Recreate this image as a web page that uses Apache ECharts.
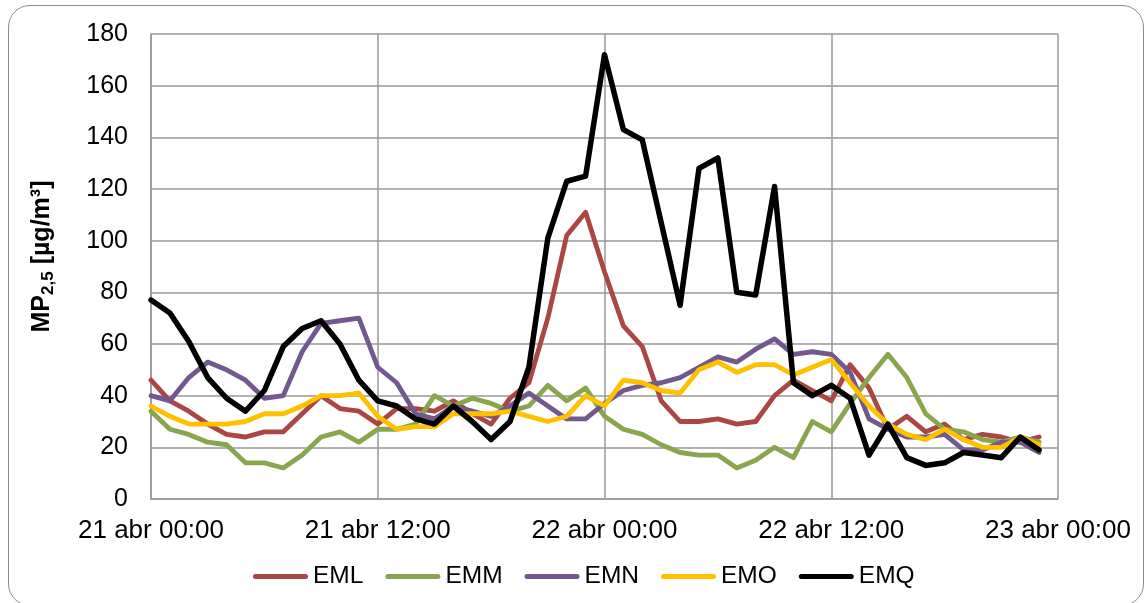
<!DOCTYPE html>
<html>
<head>
<meta charset="utf-8">
<script src="https://cdn.jsdelivr.net/npm/echarts@6/dist/echarts.min.js"></script>
<style>
  html, body { margin: 0; padding: 0; background: #fff; }
  #wrap { position: relative; width: 1145px; height: 603px; overflow: hidden; }
  #frame { position: absolute; left: 8px; top: 5px; width: 1136px; height: 601px; box-sizing: border-box;
           border: 1.5px solid #8c8c8c; border-radius: 22px; }
  #chart { position: absolute; left: 0; top: 0; width: 1145px; height: 603px; }
</style>
</head>
<body>
<div id="wrap">
  <div id="frame"></div>
  <div id="chart"></div>
</div>
<script>
// hours since 21 abr 00:00 (one point per hour)
const xTickLabels = ['21 abr 00:00', '21 abr 12:00', '22 abr 00:00', '22 abr 12:00', '23 abr 00:00'];
const seriesNames = ['EML', 'EMM', 'EMN', 'EMO', 'EMQ'];

const EML = [46, 38, 34, 29, 25, 24, 26, 26, 33, 40, 35, 34,
             29, 35, 35, 34, 38, 33, 29, 39, 45, 70, 102, 111,
             88, 67, 59, 38, 30, 30, 31, 29, 30, 40, 46, 42,
             38, 52, 43, 27, 32, 26, 29, 23, 25, 24, 22, 24];
const EMM = [34, 27, 25, 22, 21, 14, 14, 12, 17, 24, 26, 22,
             27, 27, 29, 40, 36, 39, 37, 34, 36, 44, 38, 43,
             32, 27, 25, 21, 18, 17, 17, 12, 15, 20, 16, 30,
             26, 37, 47, 56, 47, 33, 27, 26, 23, 22, 24, 22];
const EMN = [40, 38, 47, 53, 50, 46, 39, 40, 57, 68, 69, 70,
             51, 45, 33, 31, 36, 34, 32, 36, 41, 36, 31, 31,
             37, 42, 44, 45, 47, 51, 55, 53, 58, 62, 56, 57,
             56, 49, 31, 27, 24, 24, 25, 19, 19, 22, 22, 18];
const EMO = [36, 32, 29, 29, 29, 30, 33, 33, 36, 40, 40, 41,
             32, 27, 28, 28, 33, 33, 33, 34, 32, 30, 32, 40,
             36, 46, 45, 42, 41, 50, 53, 49, 52, 52, 48, 51,
             54, 45, 36, 29, 25, 23, 27, 23, 20, 20, 24, 21];
const EMQ = [77, 72, 61, 47, 39, 34, 42, 59, 66, 69, 60, 46,
             38, 36, 31, 29, 36, 30, 23, 30, 51, 101, 123, 125,
             172, 143, 139, 107, 75, 128, 132, 80, 79, 121, 45, 40,
             44, 39, 17, 29, 16, 13, 14, 18, 17, 16, 24, 19];

const allValues = [EML, EMM, EMN, EMO, EMQ];
const colors = ['#AA4643', '#89A54E', '#71588F', '#FFC000', '#000000'];
const widths = [4.8, 4.8, 4.8, 4.8, 5.5];

const FONT = '"Liberation Sans", Arial, sans-serif';
const chart = echarts.init(document.getElementById('chart'), null, { renderer: 'canvas' });

const series = seriesNames.map((name, i) => ({
  name: name,
  type: 'line',
  data: allValues[i].map((v, h) => [h, v]),
  showSymbol: false,
  symbol: 'none',
  smooth: false,
  lineStyle: { color: colors[i], width: widths[i], cap: 'round', join: 'round' },
  itemStyle: { color: colors[i] },
  emphasis: { disabled: true },
  animation: false
}));

chart.setOption({
  animation: false,
  grid: { left: 151, right: 87, top: 34, bottom: 104, containLabel: false },
  xAxis: {
    type: 'value', min: 0, max: 48, interval: 12,
    axisLine: { show: true, lineStyle: { color: '#999', width: 1.5 } },
    axisTick: { show: false },
    splitLine: { show: true, lineStyle: { color: '#999', width: 1.5 } },
    axisLabel: {
      margin: 19, fontSize: 26, color: '#000', fontFamily: FONT,
      formatter: v => xTickLabels[Math.round(v / 12)]
    }
  },
  yAxis: {
    type: 'value', min: 0, max: 180, interval: 20,
    axisLine: { show: true, lineStyle: { color: '#999', width: 1.5 } },
    axisTick: { show: false },
    splitLine: { show: true, lineStyle: { color: '#999', width: 1.5 } },
    axisLabel: { margin: 23, fontSize: 25, color: '#000', fontFamily: FONT },
    name: '{b|MP}{s|2,5}{b| [µg/m³]}',
    nameLocation: 'middle',
    nameRotate: 90,
    nameGap: 94,
    nameTextStyle: {
      color: '#000', fontFamily: FONT,
      padding: [0, 0, 0, 20],
      rich: {
        b: { fontSize: 25, fontWeight: 'bold', color: '#000', fontFamily: FONT, lineHeight: 30 },
        s: { fontSize: 17, fontWeight: 'bold', color: '#000', fontFamily: FONT, verticalAlign: 'bottom', lineHeight: 22 }
      }
    }
  },
  legend: {
    left: 248, top: 559,
    itemWidth: 55, itemHeight: 5, itemGap: 22,
    icon: 'path://M2.5,0 L52.5,0 A2.5,2.5 0 0 1 52.5,5 L2.5,5 A2.5,2.5 0 0 1 2.5,0 Z',
    textStyle: { fontSize: 24.5, color: '#000', fontFamily: FONT },
    data: seriesNames
  },
  series: series
});
</script>
</body>
</html>
